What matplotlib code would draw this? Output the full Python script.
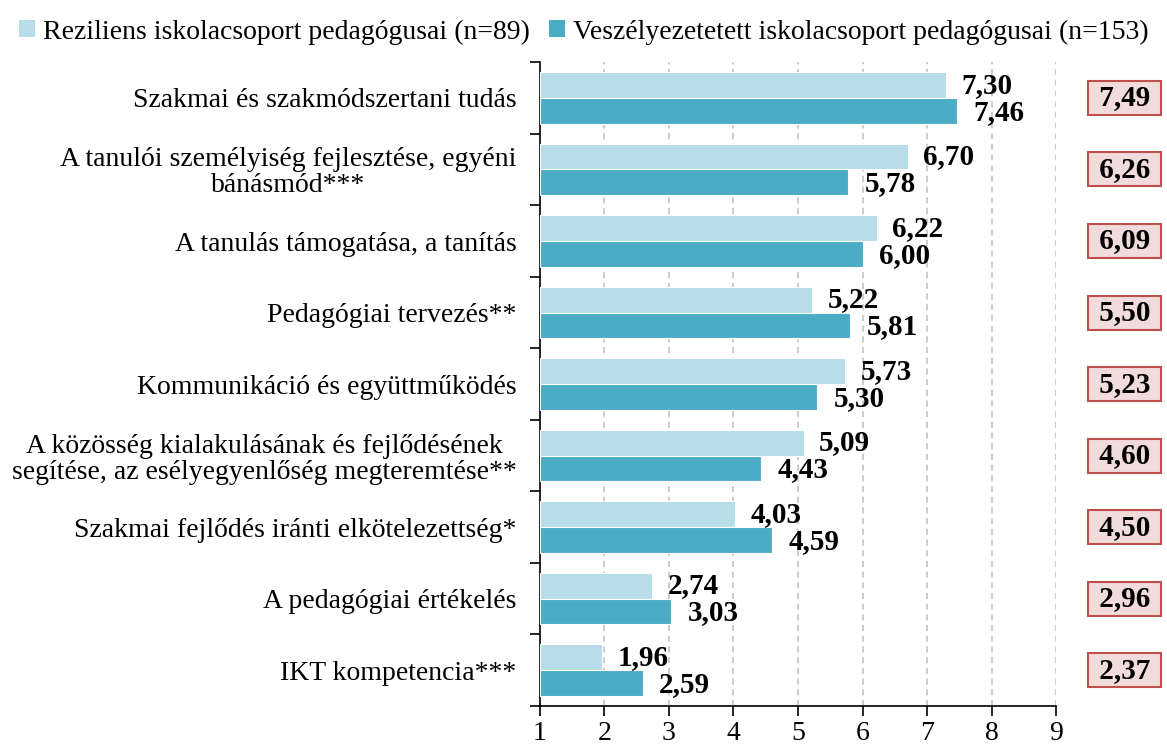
import numpy as np
import matplotlib.pyplot as plt
from matplotlib.patches import Patch
from matplotlib.transforms import blended_transform_factory

plt.rcParams['font.family'] = ['Liberation Serif', 'DejaVu Serif']

categories = [
    'Szakmai és szakmódszertani tudás',
    'A tanulói személyiség fejlesztése, egyéni\nbánásmód***',
    'A tanulás támogatása, a tanítás',
    'Pedagógiai tervezés**',
    'Kommunikáció és együttműködés',
    'A közösség kialakulásának és fejlődésének\nsegítése, az esélyegyenlőség megteremtése**',
    'Szakmai fejlődés iránti elkötelezettség*',
    'A pedagógiai értékelés',
    'IKT kompetencia***',
]
reziliens = [7.30, 6.70, 6.22, 5.22, 5.73, 5.09, 4.03, 2.74, 1.96]
veszelyeztetett = [7.46, 5.78, 6.00, 5.81, 5.30, 4.43, 4.59, 3.03, 2.59]
osszes = [7.49, 6.26, 6.09, 5.50, 5.23, 4.60, 4.50, 2.96, 2.37]
labels = ['Reziliens iskolacsoport pedagógusai (n=89)',
          'Veszélyezetetett iskolacsoport pedagógusai (n=153)']

c_light = '#b7dde8'
c_dark = '#4bacc6'

def fmt(v):
    return f'{v:.2f}'.replace('.', ',')

fig = plt.figure(figsize=(11.67, 7.49), dpi=100)
ax = fig.add_axes([0.4627, 0.0574, 0.4422, 0.8596])

y = np.arange(len(categories))
h = 0.36
base = 1
ax.barh(y - h / 2, np.array(reziliens) - base, left=base, height=h,
        color=c_light, edgecolor='white', linewidth=0.8, zorder=3)
ax.barh(y + h / 2, np.array(veszelyeztetett) - base, left=base, height=h,
        color=c_dark, edgecolor='white', linewidth=0.8, zorder=3)

for i in range(len(categories)):
    ax.annotate(fmt(reziliens[i]), (reziliens[i], y[i] - h / 2),
                xytext=(11, 0), textcoords='offset points',
                ha='left', va='center', fontsize=21, fontweight='bold', zorder=4)
    ax.annotate(fmt(veszelyeztetett[i]), (veszelyeztetett[i], y[i] + h / 2),
                xytext=(12, -1), textcoords='offset points',
                ha='left', va='center', fontsize=21, fontweight='bold', zorder=4)

trans = blended_transform_factory(fig.transFigure, ax.transData)
for i, v in enumerate(osszes):
    ax.text(0.9635, y[i], ' ' + fmt(v) + ' ', transform=trans, ha='center', va='center',
            fontsize=21, fontweight='bold',
            bbox=dict(boxstyle='square,pad=0.12', facecolor='#f2dcdb',
                      edgecolor='#c0504d', linewidth=1.5))

ax.set_xlim(1, 9)
ax.set_ylim(len(categories) - 0.5, -0.5)
ax.set_xticks(range(1, 10))
ax.tick_params(axis='x', labelsize=20, length=7, width=1.2, direction='out', pad=4)
ax.set_yticks(y)
ax.set_yticklabels(categories, fontsize=20, linespacing=1.05)
ax.tick_params(axis='y', which='major', length=0, pad=17)
ax.set_yticks(np.arange(-0.5, len(categories)), minor=True)
ax.tick_params(axis='y', which='minor', length=7, width=1.2, direction='out')
for lab in ax.get_yticklabels():
    lab.set_horizontalalignment('right')
    lab.set_multialignment('center')

ax.grid(axis='x', color='#bfbfbf', linestyle=(0, (4, 3)), linewidth=1.1, zorder=0)
ax.spines['top'].set_visible(False)
ax.spines['right'].set_visible(False)
ax.spines['left'].set_linewidth(1.2)
ax.spines['bottom'].set_linewidth(1.2)

handles = [Patch(facecolor=c_light, label=labels[0]),
           Patch(facecolor=c_dark, label=labels[1])]
fig.legend(handles=handles, loc='upper left', bbox_to_anchor=(0.0, 1.0),
           borderaxespad=0.3, ncol=2, frameon=False, fontsize=20,
           handlelength=0.55, handleheight=0.55, handletextpad=0.3,
           columnspacing=0.7)

fig.savefig('out.png', dpi=100)
